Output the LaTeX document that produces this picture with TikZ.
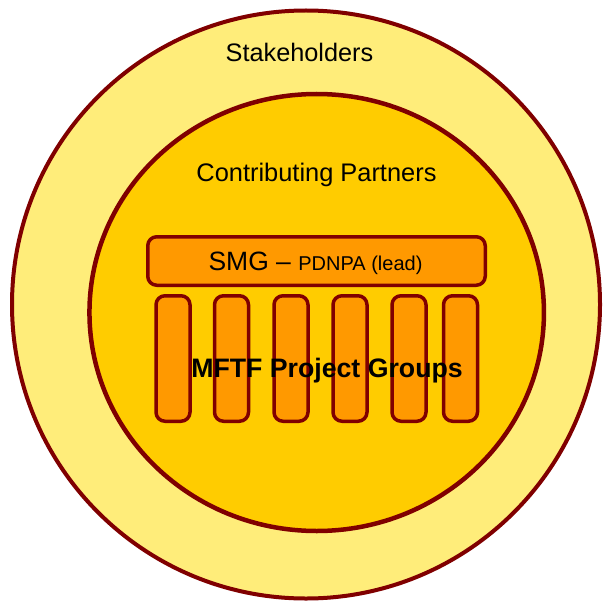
\documentclass[tikz,border=0pt]{standalone}
\usepackage{fontspec}
\setmainfont{Liberation Sans}
\usetikzlibrary{shapes.geometric}

\definecolor{ringline}{HTML}{800000}
\definecolor{outerfill}{HTML}{FFED7A}
\definecolor{innerfill}{HTML}{FFCC00}
\definecolor{boxfill}{HTML}{FF9900}

\tikzset{
  ring/.style={draw=ringline, line width=4pt, inner sep=0pt},
  groupbox/.style={draw=ringline, fill=boxfill, line width=3.5pt,
    rounded corners=9pt, rectangle, inner sep=0pt},
  pillar/.style={groupbox, minimum width=34pt, minimum height=125.5pt},
  label/.style={anchor=base, inner sep=0pt, text=black},
}

\begin{document}
\begin{tikzpicture}[x=1pt, y=-1pt]
  \useasboundingbox (0,0) rectangle (602,604);

  % concentric rings
  \node[ring, circle, fill=outerfill, minimum size=588pt] (stake) at (306,304.5) {};
  \node[ring, ellipse, fill=innerfill, line width=4.5pt,
        minimum width=454.5pt, minimum height=437pt] (partners) at (316.7,312.5) {};

  % ring titles
  \node[label, font=\fontsize{25.3}{30}\selectfont] (stakelbl) at (299.5,62) {Stakeholders};
  \node[label, font=\fontsize{25.4}{30}\selectfont] (partlbl) at (316.5,182) {Contributing Partners};

  % steering group bar
  \node[groupbox, minimum width=337.5pt, minimum height=48.5pt] (smg) at (316.5,261) {};
  \node[label] (smglbl) at (315.5,270)
    {\fontsize{26.5}{30}\selectfont SMG -- \fontsize{20}{24}\selectfont PDNPA (lead)};

  % project group pillars
  \node[pillar] (p1) at (173,358.5) {};
  \node[pillar] (p2) at (231.5,358.5) {};
  \node[pillar] (p3) at (291,358.5) {};
  \node[pillar] (p4) at (350,358.5) {};
  \node[pillar] (p5) at (409,358.5) {};
  \node[pillar] (p6) at (460.5,358.5) {};

  \node[label, font=\bfseries\fontsize{26.7}{30}\selectfont] (mftf) at (327,377)
    {MFTF Project Groups};
\end{tikzpicture}
\end{document}
